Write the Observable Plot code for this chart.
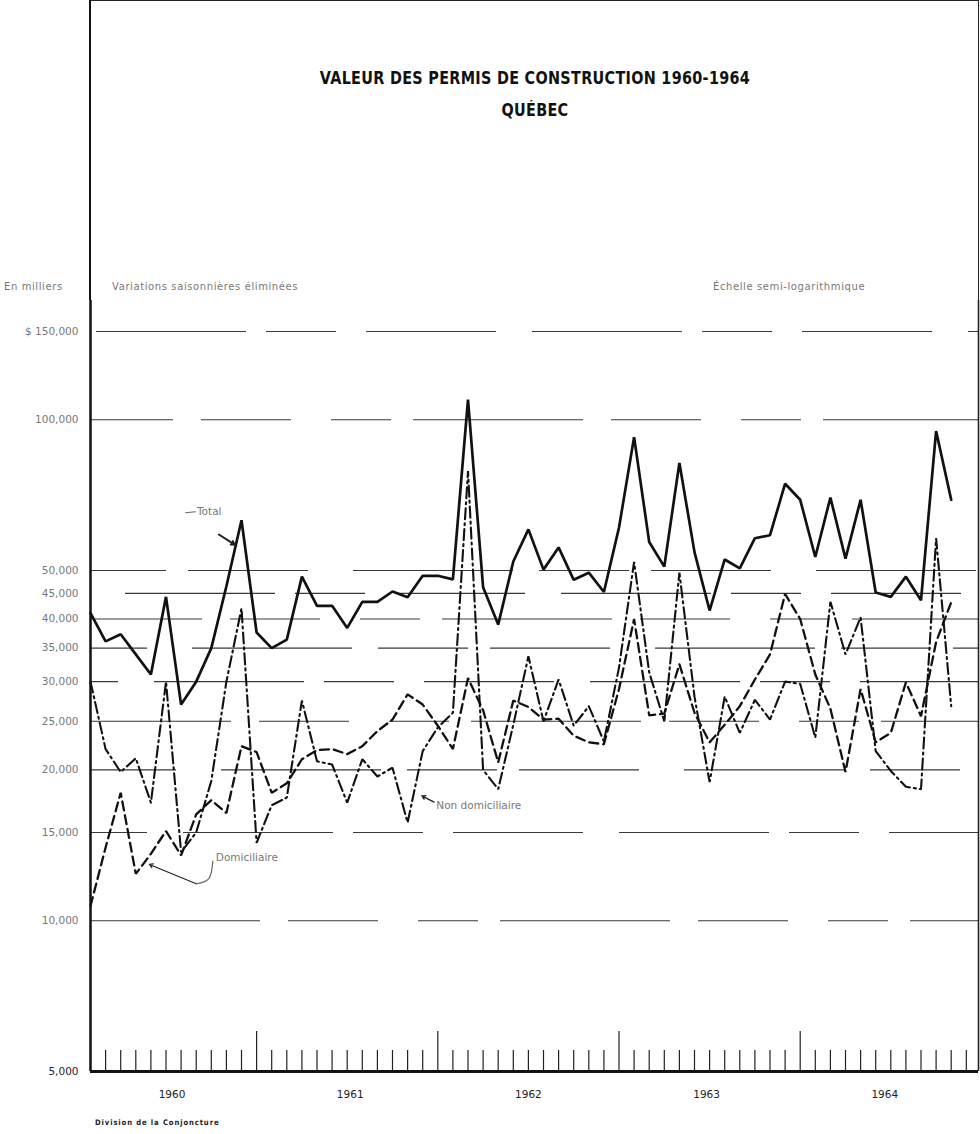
<!DOCTYPE html>
<html><head><meta charset="utf-8">
<script src="https://cdn.jsdelivr.net/npm/d3@7"></script>
<script src="https://cdn.jsdelivr.net/npm/@observablehq/plot@0.6"></script>
<style>
body{margin:0;background:#fff;}
#wrap{position:relative;width:980px;height:1134px;overflow:hidden;font-family:"DejaVu Sans",sans-serif;background:#fff;}
#head{position:relative;height:300px;box-sizing:border-box;margin-left:89px;width:890px;border-left:2.5px solid #111;border-right:1.5px solid #222;border-top:1.5px solid #222;}
.title{position:absolute;left:0;width:888px;text-align:center;font-family:"DejaVu Sans Condensed","DejaVu Sans",sans-serif;font-weight:bold;font-size:16px;line-height:16px;color:#111;letter-spacing:0.3px;transform:scaleY(1.08);}
.note{position:absolute;font-size:10px;line-height:12px;color:#777;letter-spacing:0.6px;white-space:nowrap;}
#caption{height:22px;padding-left:95px;box-sizing:border-box;font-family:"DejaVu Sans Condensed","DejaVu Sans",sans-serif;font-weight:bold;font-size:7.6px;line-height:22px;color:#222;letter-spacing:0.9px;}
g[aria-label="ylab"] text{letter-spacing:0.9px;}
g[aria-label="notes"] text{letter-spacing:0.9px;}
g[aria-label="years"] text{letter-spacing:0.6px;}
</style>
</head><body>
<div id="wrap">
  <div id="head">
    <div class="title" style="top:70px;">VALEUR DES PERMIS DE CONSTRUCTION 1960-1964</div>
    <div class="title" style="top:102px;">QUÉBEC</div>
    <div class="note" style="left:-87px;top:280px;">En milliers</div>
    <div class="note" style="left:21px;top:280px;">Variations saisonnières éliminées</div>
    <div class="note" style="left:622px;top:280px;">Échelle semi-logarithmique</div>
  </div>
  <div id="chart"></div>
  <div id="caption">Division de la Conjoncture</div>
</div>
<script>
// ---- data (values in thousands of dollars) ----
const months = d3.utcMonth.range(new Date(Date.UTC(1960, 0, 1)), new Date(Date.UTC(1964, 10, 1))); // Jan 1960 .. Oct 1964
const total = [41100, 36100, 37300, 34000, 31000, 44300, 27000, 30000, 35000, 46500, 63000, 37600,
               35000, 36400, 48600, 42500, 42500, 38400, 43300, 43300, 45400, 44200, 48800, 48800,
               48000, 109700, 46300, 39000, 52100, 60400, 50200, 55600, 47900, 49500, 45300, 60900,
               92300, 57000, 50900, 82000, 54400, 41600, 52600, 50500, 58000, 58800, 74500, 69200,
               53200, 69900, 52800, 69200, 45200, 44300, 48600, 43600, 94900, 69200];
const nonDomiciliaire = [30000, 22000, 19800, 21100, 17200, 30000, 13700, 15000, 19000, 30000, 42000, 14300,
               17000, 17600, 27500, 20800, 20500, 17200, 21000, 19400, 20200, 15700, 21800, 24300,
               26000, 79000, 20000, 18300, 24600, 33700, 25000, 30300, 24500, 26800, 22800, 32000,
               52000, 31300, 25000, 49500, 28000, 18900, 28000, 23700, 27600, 25200, 30000, 29700,
               23200, 43300, 34000, 40300, 21800, 19900, 18500, 18300, 58000, 26800];
const domiciliaire = [10700, 14000, 18000, 12400, 13600, 15100, 13500, 16300, 17400, 16400, 22300, 21700,
               18000, 18800, 21000, 21900, 22000, 21500, 22300, 23900, 25200, 28300, 27000, 24500,
               22000, 30500, 26300, 20700, 27500, 26700, 25200, 25300, 23400, 22700, 22500, 29000,
               40000, 25700, 25900, 32500, 26000, 22700, 24600, 26800, 30300, 34000, 44900, 40000,
               31000, 26500, 19800, 29000, 22700, 23700, 29900, 25600, 36000, 43200];
const yTickValues = [5000, 10000, 15000, 20000, 25000, 30000, 35000, 40000, 45000, 50000, 100000, 150000];
const yTickLabels = ["5,000", "10,000", "15,000", "20,000", "25,000", "30,000", "35,000", "40,000", "45,000", "50,000", "100,000", "$ 150,000"];
const years = [1960, 1961, 1962, 1963, 1964];

// annotations (month index, value)
const notes = [
  {text: "Total", i: 7.05, v: 65500},
  {text: "Non domiciliaire", i: 22.9, v: 16950},
  {text: "Domiciliaire", i: 8.3, v: 13350}
];
const arrows = [
  {i1: 8.5, v1: 59000, i2: 9.55, v2: 56300, dash: null, w: 2},
  {i1: 22.75, v1: 17250, i2: 21.95, v2: 17750, dash: null, w: 1.4},
  {i1: 7.0, v1: 11850, i2: 3.9, v2: 12950, dash: "2,2", w: 1.2}
];
const leaders = [
  {i: 6.3, v: 65200, k: "t"}, {i: 6.95, v: 65500, k: "t"},
  {i: 8.1, v: 13150, k: "d"}, {i: 7.85, v: 12150, k: "d"}, {i: 7.0, v: 11850, k: "d"}
];

// ---- layout ----
const W = 980, H = 812, ML = 90, MR = 2, MB = 41;
const plotH = H - MB;
const monthPx = 15.1;
const xMax = (W - ML - MR) / monthPx;
const yMin = 5000, pxPerDecade = 501;
const yMax = yMin * 10 ** (plotH / pxPerDecade);
const yAbove = px => yMin * 10 ** (px / pxPerDecade);

const idx = months.map((m, i) => i);
const rows = s => idx.map(i => ({i, v: s[i], date: months[i]}));
const tickIdx = d3.range(1, Math.floor(xMax) + 1);
const shortTicks = tickIdx.filter(i => i % 12 !== 11);
const longTicks = tickIdx.filter(i => i % 12 === 11);

// broken, hand-drafted look of the grid: each line gets its own dash phase
const gridDash = ["170,28,90,40,60,22", "130,36,150,20,70,30", "90,22,120,45,160,26"];
const gridMarks = yTickValues.slice(1).map((v, k) =>
  Plot.ruleY([v], {stroke: "#3a3a3a", strokeWidth: 1.1, strokeDasharray: gridDash[k % 3], strokeDashoffset: (k * 73) % 190})
);

const chart = Plot.plot({
  width: W, height: H,
  marginLeft: ML, marginRight: MR, marginTop: 0, marginBottom: MB,
  style: {fontFamily: "DejaVu Sans, sans-serif", fontSize: "10px", background: "transparent", overflow: "visible"},
  x: {type: "linear", domain: [0, xMax], axis: null},
  y: {type: "log", domain: [yMin, yMax], axis: null},
  marks: [
    ...gridMarks,
    Plot.ruleX(shortTicks, {x: d => d, y1: yMin, y2: yAbove(21), stroke: "#222", strokeWidth: 1.2}),
    Plot.ruleX(longTicks, {x: d => d, y1: yMin, y2: yAbove(40), stroke: "#222", strokeWidth: 1.2}),
    Plot.line(rows(domiciliaire), {x: "i", y: "v", stroke: "#111", strokeWidth: 2.3, strokeDasharray: "9,5", strokeLinejoin: "miter"}),
    Plot.line(rows(nonDomiciliaire), {x: "i", y: "v", stroke: "#111", strokeWidth: 2.1, strokeDasharray: "11,4,2,4", strokeLinejoin: "miter"}),
    Plot.line(rows(total), {x: "i", y: "v", stroke: "#111", strokeWidth: 2.7, strokeLinejoin: "miter"}),
    Plot.ruleY([yMin], {stroke: "#111", strokeWidth: 3.2}),
    Plot.ruleX([0], {stroke: "#111", strokeWidth: 2.5}),
    Plot.ruleX([xMax], {stroke: "#222", strokeWidth: 1.6}),
    Plot.text(yTickValues, {y: d => d, text: (d, k) => yTickLabels[k], frameAnchor: "left", textAnchor: "end", dx: -12, fill: (d) => d === yMin ? "#222" : "#777", fontSize: 10.5, ariaLabel: "ylab"}),
    Plot.text(years, {x: (d, k) => k * 11.8 + 5.4, text: d => String(d), frameAnchor: "bottom", dy: 26, fill: "#222", fontSize: 10.5, ariaLabel: "years"}),
    Plot.text(notes, {x: "i", y: "v", text: "text", textAnchor: "start", fill: "#777", fontSize: 10.5, ariaLabel: "notes"}),
    Plot.line(leaders, {x: "i", y: "v", z: "k", stroke: "#666", strokeWidth: 1.2, curve: "natural"}),
    Plot.arrow(arrows, {x1: "i1", y1: "v1", x2: "i2", y2: "v2", stroke: "#222", strokeWidth: d => d.w, strokeDasharray: d => d.dash, headLength: 6})
  ]
});
document.getElementById("chart").appendChild(chart);
</script>
</body></html>
